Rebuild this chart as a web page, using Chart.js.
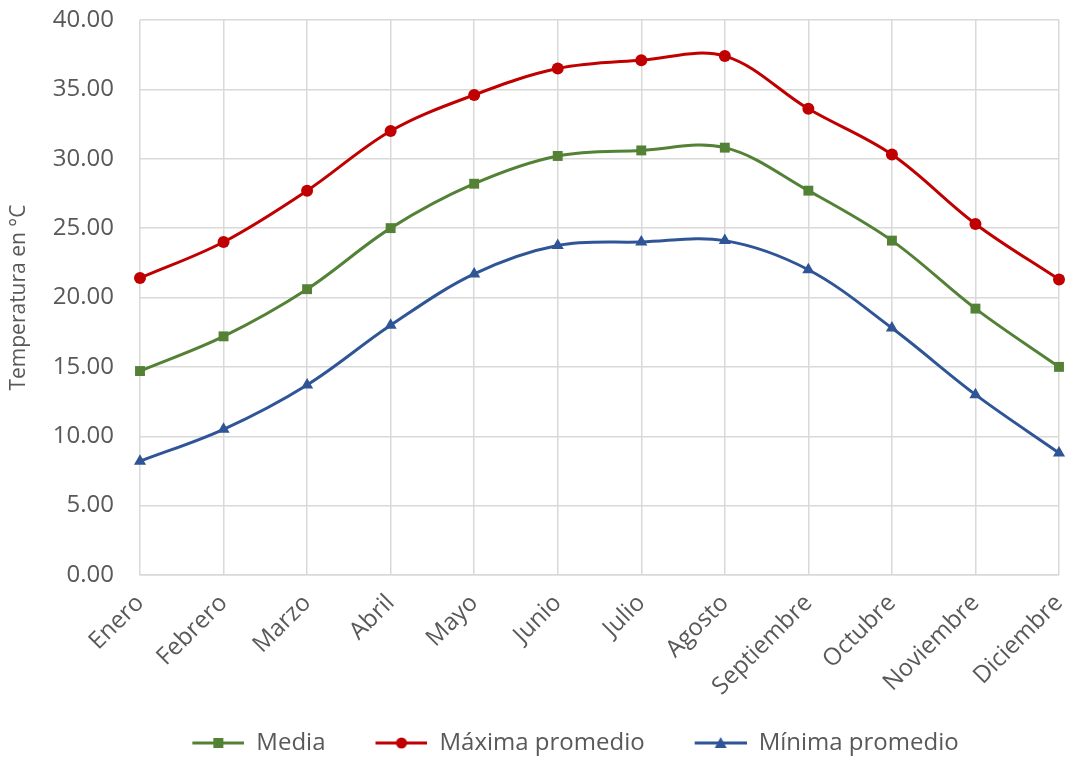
<!DOCTYPE html>
<html>
<head>
<meta charset="utf-8">
<script src="https://cdn.jsdelivr.net/npm/chart.js@4"></script>
<style>
  html, body { margin: 0; padding: 0; background: #fff; }
  #wrap { width: 1068px; height: 759px; }
</style>
</head>
<body>
<div id="wrap"><canvas id="chart"></canvas></div>
<script>
// months along the x axis
const months = ['Enero', 'Febrero', 'Marzo', 'Abril', 'Mayo', 'Junio', 'Julio',
	'Agosto', 'Septiembre', 'Octubre', 'Noviembre', 'Diciembre'];

// temperatures in °C
const media = [14.7, 17.2, 20.6, 25.0, 28.2, 30.2, 30.6, 30.8, 27.7, 24.1, 19.2, 15.0];
const maxima = [21.4, 24.0, 27.7, 32.0, 34.6, 36.5, 37.1, 37.4, 33.6, 30.3, 25.3, 21.3];
const minima = [8.2, 10.5, 13.7, 18.0, 21.7, 23.75, 24.0, 24.1, 22.0, 17.8, 13.0, 8.8];

const yTicks = [0, 5, 10, 15, 20, 25, 30, 35, 40];

const FONT = '"Open Sans", "Noto Sans", sans-serif';
const GREY = '#595959';
const GAP = 40; // extra space left of each legend symbol

/**
 * Builds a small canvas with a line and the series marker, used as legend symbol.
 * The left part is transparent so the legend items get Excel-like spacing.
 */
function legendSymbol(color, shape) {
	const c = document.createElement('canvas');
	c.width = 52 + GAP;
	c.height = 16;
	const ctx = c.getContext('2d');
	const x0 = GAP, mid = GAP + 26;
	ctx.strokeStyle = color;
	ctx.fillStyle = color;
	ctx.lineWidth = 3;
	ctx.beginPath();
	ctx.moveTo(x0, 8);
	ctx.lineTo(x0 + 52, 8);
	ctx.stroke();
	ctx.beginPath();
	if (shape === 'rect') {
		ctx.rect(mid - 5, 3, 10, 10);
	} else if (shape === 'circle') {
		ctx.arc(mid, 8, 5.5, 0, Math.PI * 2);
	} else {
		ctx.moveTo(mid, 2);
		ctx.lineTo(mid + 6, 13);
		ctx.lineTo(mid - 6, 13);
		ctx.closePath();
	}
	ctx.fill();
	return c;
}

function makeSeries(label, data, color, shape, radius) {
	return {
		label: label,
		data: data,
		borderColor: color,
		backgroundColor: color,
		borderWidth: 3,
		pointStyle: shape,
		pointRadius: radius,
		pointHoverRadius: radius,
		pointBorderWidth: 0,
		tension: 0.35,
		legendSymbol: legendSymbol(color, shape)
	};
}

const datasets = [
	makeSeries('Media', media, '#538135', 'rect', 7),
	makeSeries('Máxima promedio', maxima, '#c00000', 'circle', 6),
	makeSeries('Mínima promedio', minima, '#2f5597', 'triangle', 7)
];

Chart.defaults.font.family = FONT;
Chart.defaults.color = GREY;

// nudge the legend so it sits where Excel put it
const legendShift = {
	id: 'legendShift',
	afterLayout: function(chart) {
		chart.legend.left += 26;
		chart.legend.right += 26;
		chart.legend.top += 6;
		chart.legend.bottom += 6;
	}
};

new Chart(document.getElementById('chart'), {
	type: 'line',
	data: { labels: months, datasets: datasets },
	plugins: [legendShift],
	options: {
		responsive: true,
		maintainAspectRatio: false,
		animation: false,
		layout: { padding: { top: 20, right: 9, left: 0, bottom: 0 } },
		plugins: {
			tooltip: { enabled: false },
			legend: {
				position: 'bottom',
				labels: {
					usePointStyle: true,
					pointStyleWidth: 52 + GAP,
					font: { size: 24 },
					color: GREY,
					padding: 10,
					generateLabels: function(chart) {
						return chart.data.datasets.map(function(ds, i) {
							return {
								text: ds.label,
								pointStyle: ds.legendSymbol,
								fontColor: GREY,
								datasetIndex: i,
								lineWidth: 0
							};
						});
					}
				}
			}
		},
		scales: {
			x: {
				grid: { color: '#d9d9d9', lineWidth: 1.5, drawTicks: false },
				border: { color: '#d9d9d9', width: 1.5 },
				ticks: {
					font: { size: 24 },
					color: GREY,
					maxRotation: 45,
					minRotation: 45,
					padding: 14
				},
				afterFit: function(scale) {
					scale.height = 140;
					scale.paddingLeft = 0;
					scale.paddingRight = 0;
				}
			},
			y: {
				min: 0,
				max: 40,
				afterBuildTicks: function(scale) {
					scale.ticks = yTicks.map(function(v) { return { value: v }; });
				},
				grid: { color: '#d9d9d9', lineWidth: 1.5, drawTicks: false },
				border: { display: false },
				ticks: {
					font: { size: 24 },
					color: GREY,
					padding: 26,
					callback: function(v) { return v.toFixed(2); }
				},
				title: {
					display: true,
					text: 'Temperatura en °C',
					font: { size: 21 },
					color: GREY,
					padding: { top: 6, bottom: 0 }
				},
				afterFit: function(scale) {
					scale.width = 140;
					scale.paddingTop = 0;
					scale.paddingBottom = 0;
				}
			}
		}
	}
});
</script>
</body>
</html>
